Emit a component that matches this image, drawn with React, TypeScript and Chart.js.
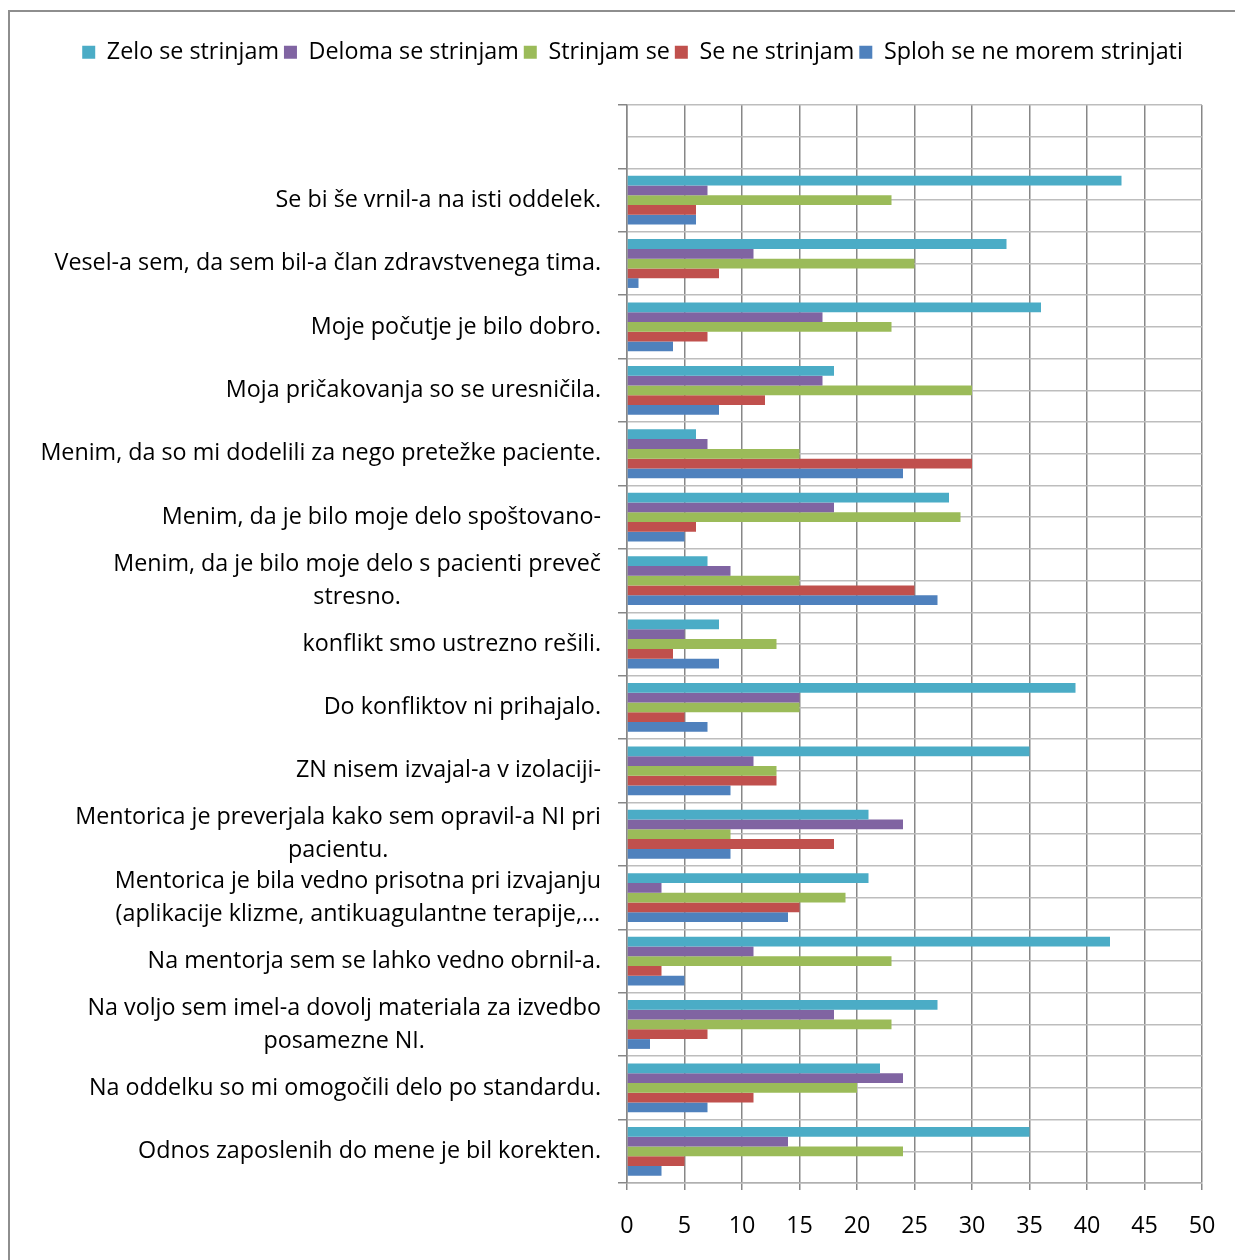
import React, { useEffect, useRef } from 'react';
import { Chart, registerables } from 'chart.js';

Chart.register(...registerables);

const FONT = '"Open Sans", Lato, sans-serif';
const FONT_SIZE = 23.3;
const LINE_H = 33;

const categories: (string | string[])[] = [
  '',
  'Se bi še vrnil-a na isti oddelek.',
  'Vesel-a sem, da sem bil-a član zdravstvenega tima.',
  'Moje počutje je bilo dobro.',
  'Moja pričakovanja so se uresničila.',
  'Menim, da so mi dodelili za nego pretežke paciente.',
  'Menim, da je bilo moje delo spoštovano-',
  ['Menim, da je bilo moje delo s pacienti preveč', 'stresno.'],
  'konflikt smo ustrezno rešili.',
  'Do konfliktov ni prihajalo.',
  'ZN nisem izvajal-a v izolaciji-',
  ['Mentorica je preverjala kako sem opravil-a NI pri', 'pacientu.'],
  ['Mentorica je bila vedno prisotna pri izvajanju', '(aplikacije klizme, antikuagulantne terapije,…'],
  'Na mentorja sem se lahko vedno obrnil-a.',
  ['Na voljo sem imel-a dovolj materiala za izvedbo', 'posamezne NI.'],
  'Na oddelku so mi omogočili delo po standardu.',
  'Odnos zaposlenih do mene je bil korekten.',
];

const seriesNames = [
  'Zelo se strinjam',
  'Deloma se strinjam',
  'Strinjam se',
  'Se ne strinjam',
  'Sploh se ne morem strinjati',
];

const zeloSeStrinjam = [null, 43, 33, 36, 18, 6, 28, 7, 8, 39, 35, 21, 21, 42, 27, 22, 35];
const delomaSeStrinjam = [null, 7, 11, 17, 17, 7, 18, 9, 5, 15, 11, 24, 3, 11, 18, 24, 14];
const strinjamSe = [null, 23, 25, 23, 30, 15, 29, 15, 13, 15, 13, 9, 19, 23, 23, 20, 24];
const seNeStrinjam = [null, 6, 8, 7, 12, 30, 6, 25, 4, 5, 13, 18, 15, 3, 7, 11, 5];
const splohSeNeMorem = [null, 6, 1, 4, 8, 24, 5, 27, 8, 7, 9, 9, 14, 5, 2, 7, 3];

const seriesColors = ['#4BACC6', '#8064A2', '#9BBB59', '#C0504D', '#4F81BD'];

const xMin = 0;
const xMax = 50;
const xStep = 5;

const yLabelPlugin = {
  id: 'yLabelPlugin',
  afterDraw(chart: any) {
    const scale = chart.scales.y;
    const ctx = chart.ctx;
    ctx.save();
    ctx.font = `${FONT_SIZE}px ${FONT}`;
    ctx.fillStyle = '#000000';
    ctx.textBaseline = 'middle';
    ctx.textAlign = 'center';
    const right = chart.chartArea.left - 26;
    categories.forEach((lab, i) => {
      const lines = Array.isArray(lab) ? lab : [lab];
      if (!lines[0]) return;
      const w = Math.max(...lines.map((l) => ctx.measureText(l).width));
      const cx = right - w / 2;
      const yc = scale.getPixelForTick(i);
      const start = yc - ((lines.length - 1) * LINE_H) / 2;
      lines.forEach((l, k) => ctx.fillText(l, cx, start + k * LINE_H));
    });
    ctx.restore();
  },
};

export default function App() {
  const ref = useRef<HTMLCanvasElement | null>(null);

  useEffect(() => {
    if (!ref.current) return;
    const data = [zeloSeStrinjam, delomaSeStrinjam, strinjamSe, seNeStrinjam, splohSeNeMorem];
    const chart = new Chart(ref.current, {
      type: 'bar',
      data: {
        labels: categories.map((c) => (Array.isArray(c) ? c.join(' ') : c)),
        datasets: seriesNames.map((name, i) => ({
          label: name,
          data: data[i],
          backgroundColor: seriesColors[i],
          borderWidth: 0,
          categoryPercentage: 0.77,
          barPercentage: 1.0,
          yAxisID: 'y',
        })),
      },
      options: {
        indexAxis: 'y',
        animation: false,
        responsive: false,
        maintainAspectRatio: false,
        layout: { padding: { top: 23.5, left: 20, right: 0, bottom: 0 } },
        plugins: {
          legend: {
            position: 'top',
            align: 'center',
            weight: 3000,
            labels: {
              font: { family: FONT, size: FONT_SIZE },
              color: '#000000',
              boxWidth: 13,
              boxHeight: 13,
              padding: 5,
            },
          },
          title: {
            display: true,
            text: ' ',
            font: { size: 10, lineHeight: 1 },
            padding: { top: 11, bottom: 10.2 },
          },
          tooltip: { enabled: false },
        },
        scales: {
          x: {
            type: 'linear',
            position: 'bottom',
            min: xMin,
            max: xMax,
            ticks: {
              stepSize: xStep,
              font: { family: FONT, size: FONT_SIZE },
              color: '#000000',
              padding: 22,
            },
            grid: {
              color: '#878787',
              lineWidth: 1.5,
              tickLength: 7,
              tickColor: '#878787',
            },
            border: { display: true, color: '#b0b0b0', width: 1.5 },
            afterFit: (s: any) => {
              s.height = 77;
              s.paddingLeft = 0;
              s.paddingRight = 33;
            },
          },
          y: {
            type: 'category',
            position: 'left',
            offset: true,
            ticks: { display: false },
            grid: {
              offset: true,
              color: '#bdbdbd',
              lineWidth: 1.5,
              tickLength: 9,
              tickColor: '#878787',
            },
            border: { display: true, color: '#878787', width: 1.5 },
            afterFit: (s: any) => {
              s.width = 597;
            },
          },
          y2: {
            type: 'category',
            position: 'left',
            offset: true,
            ticks: { display: false },
            grid: {
              offset: false,
              color: '#bdbdbd',
              lineWidth: 1.5,
              drawTicks: false,
            },
            border: { display: false },
            afterFit: (s: any) => {
              s.width = 0;
            },
          },
        },
      },
      plugins: [yLabelPlugin],
    });
    return () => chart.destroy();
  }, []);

  return (
    <div
      style={{
        position: 'absolute',
        left: 8,
        top: 10,
        width: 1227,
        height: 1250,
        boxSizing: 'border-box',
        borderTop: '2px solid #8e8e8e',
        borderLeft: '2px solid #8e8e8e',
        background: '#ffffff',
      }}
    >
      <canvas ref={ref} width={1225} height={1248} style={{ display: 'block' }} />
    </div>
  );
}
